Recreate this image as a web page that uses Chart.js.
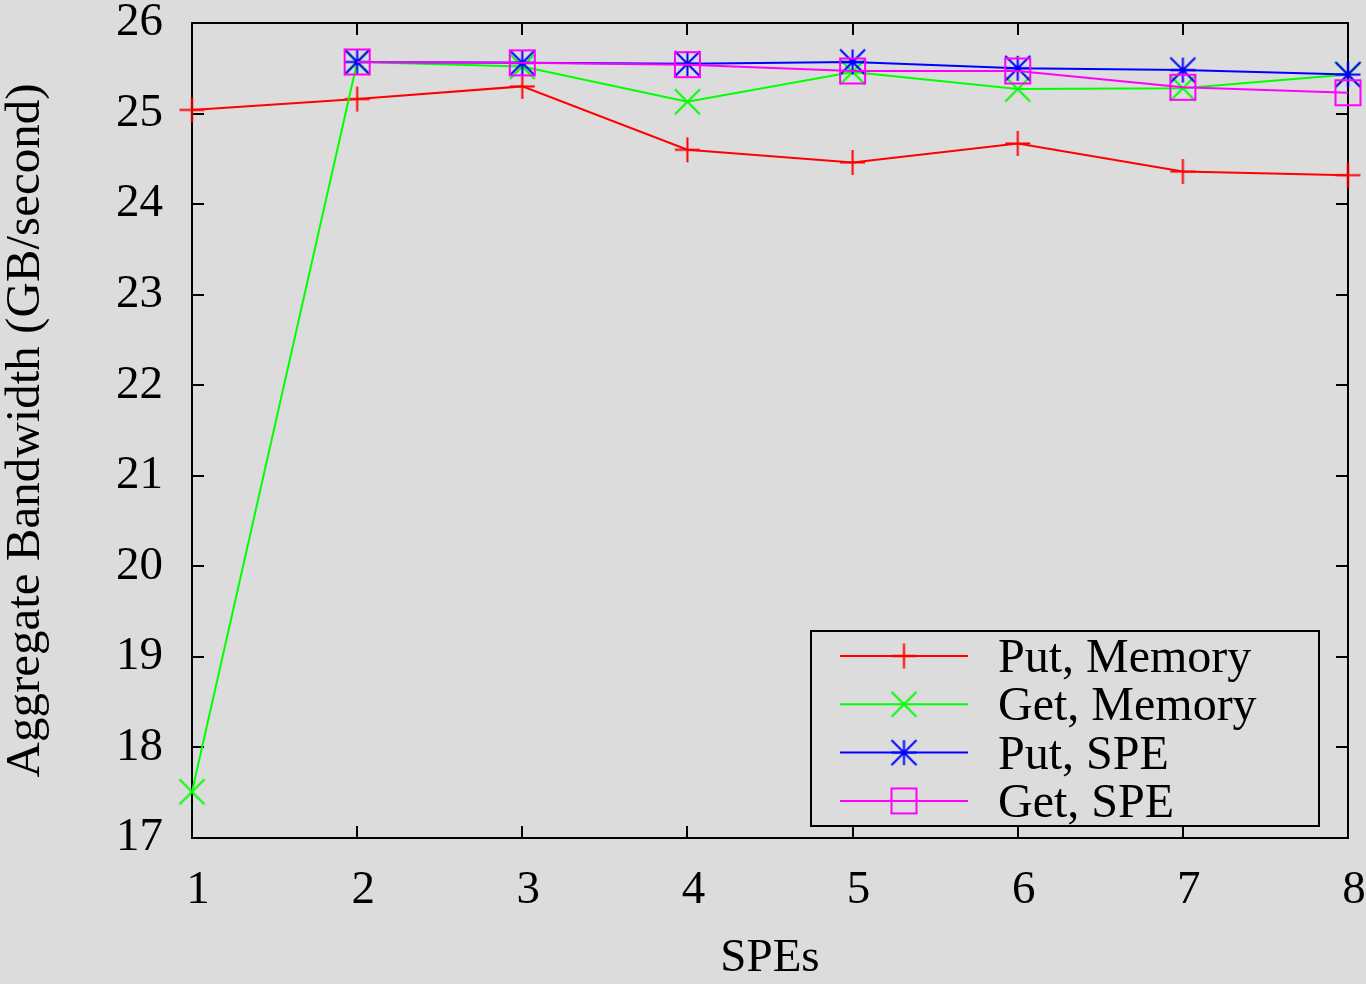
<!DOCTYPE html>
<html>
<head>
<meta charset="utf-8">
<script src="https://cdn.jsdelivr.net/npm/chart.js@4.4.1/dist/chart.umd.min.js"></script>
<style>
  html, body { margin: 0; padding: 0; background: #dcdcdc; }
</style>
</head>
<body>
<canvas id="myChart" width="1366" height="984"></canvas>
<script>
// values
const spes = [1, 2, 3, 4, 5, 6, 7, 8];
const putMemory = [25.04, 25.16, 25.30, 24.60, 24.46, 24.67, 24.36, 24.32];
const getMemory = [17.51, 25.57, 25.52, 25.13, 25.46, 25.27, 25.28, 25.43];
const putSpe = [null, 25.57, 25.56, 25.55, 25.57, 25.50, 25.48, 25.43];
const getSpe = [null, 25.57, 25.56, 25.54, 25.47, 25.47, 25.29, 25.23];
const xTickValues = [1, 2, 3, 4, 5, 6, 7, 8];
const yTickValues = [17, 18, 19, 20, 21, 22, 23, 24, 25, 26];

const FONT = '"Liberation Serif", "Times New Roman", serif';
const ctx = document.getElementById('myChart').getContext('2d');

// gnuplot-like point markers drawn on small canvases
function marker(kind, color) {
    const c = document.createElement('canvas');
    c.width = 29; c.height = 29;
    const g = c.getContext('2d');
    g.strokeStyle = color;
    g.lineWidth = 2;
    const m = 14.5, r = 12.5;
    g.beginPath();
    if (kind === 'plus' || kind === 'star') {
        g.moveTo(m - r, m); g.lineTo(m + r, m);
        g.moveTo(m, m - r); g.lineTo(m, m + r);
    }
    if (kind === 'cross' || kind === 'star') {
        g.moveTo(m - r, m - r); g.lineTo(m + r, m + r);
        g.moveTo(m + r, m - r); g.lineTo(m - r, m + r);
    }
    if (kind === 'box') g.rect(m - r, m - r, 2 * r, 2 * r);
    g.stroke();
    return c;
}

function series(label, values, color, kind, order) {
    return {
        label: label,
        data: spes.map((x, i) => ({ x: x, y: values[i] })),
        borderColor: color,
        backgroundColor: color,
        borderWidth: 2,
        pointStyle: marker(kind, color),
        pointRadius: 12,
        clip: false,
        order: order
    };
}

// frame and inward tick marks
const framePlugin = {
    id: 'frame',
    beforeDatasetsDraw(chart) {
        const { ctx, chartArea: a, scales } = chart;
        ctx.save();
        ctx.strokeStyle = '#000';
        ctx.lineWidth = 2;
        ctx.strokeRect(a.left, a.top, a.right - a.left, a.bottom - a.top);
        ctx.beginPath();
        yTickValues.forEach(v => {
            const y = Math.round(scales.y.getPixelForValue(v));
            ctx.moveTo(a.left, y); ctx.lineTo(a.left + 12, y);
            ctx.moveTo(a.right, y); ctx.lineTo(a.right - 12, y);
        });
        xTickValues.forEach(v => {
            const x = Math.round(scales.x.getPixelForValue(v));
            ctx.moveTo(x, a.bottom); ctx.lineTo(x, a.bottom - 12);
            ctx.moveTo(x, a.top); ctx.lineTo(x, a.top + 12);
        });
        ctx.stroke();
        ctx.restore();
    }
};

// boxed legend inside the plot, lower right
const legendPlugin = {
    id: 'boxLegend',
    afterDraw(chart) {
        const { ctx } = chart;
        const box = { x: 811, y: 631, w: 508, h: 195 };
        ctx.save();
        ctx.strokeStyle = '#000';
        ctx.lineWidth = 2;
        ctx.strokeRect(box.x, box.y, box.w, box.h);
        ctx.font = '48px ' + FONT;
        ctx.textBaseline = 'alphabetic';
        ctx.textAlign = 'left';
        chart.data.datasets.forEach((ds, i) => {
            const y = 656 + i * 48.3;
            ctx.strokeStyle = ds.borderColor;
            ctx.lineWidth = 2;
            ctx.beginPath();
            ctx.moveTo(840, y); ctx.lineTo(968, y);
            ctx.stroke();
            ctx.drawImage(ds.pointStyle, 904 - 14.5, y - 14.5);
            ctx.fillStyle = '#000';
            ctx.fillText(ds.label, 998, y + 16);
        });
        ctx.restore();
    }
};

const chart = new Chart(ctx, {
    type: 'line',
    data: {
        datasets: [
            series('Put, Memory', putMemory, '#ff0000', 'plus', 4),
            series('Get, Memory', getMemory, '#00ff00', 'cross', 3),
            series('Put, SPE', putSpe, '#0000ff', 'star', 2),
            series('Get, SPE', getSpe, '#ff00ff', 'box', 1)
        ]
    },
    options: {
        responsive: false,
        animation: false,
        layout: { padding: { left: 0, top: 23, right: 18, bottom: 0 } },
        plugins: {
            legend: { display: false },
            tooltip: { enabled: false }
        },
        scales: {
            x: {
                type: 'linear',
                min: 1,
                max: 8,
                grid: { display: false, drawTicks: false },
                border: { display: false },
                afterBuildTicks: s => { s.ticks = xTickValues.map(v => ({ value: v })); },
                afterFit: s => { s.height = 146; s.paddingLeft = 0; s.paddingRight = 0; },
                ticks: {
                    color: '#000',
                    padding: 24,
                    labelOffset: 6,
                    maxRotation: 0,
                    font: { family: FONT, size: 47 }
                },
                title: {
                    display: true,
                    text: 'SPEs',
                    color: '#000',
                    padding: { top: 0, bottom: 2 },
                    font: { family: FONT, size: 47, lineHeight: 1 }
                }
            },
            y: {
                min: 17,
                max: 26,
                grid: { display: false, drawTicks: false },
                border: { display: false },
                afterBuildTicks: s => { s.ticks = yTickValues.map(v => ({ value: v })); },
                afterFit: s => { s.width = 192; s.paddingTop = 0; s.paddingBottom = 0; },
                ticks: {
                    color: '#000',
                    padding: 29,
                    font: { family: FONT, size: 47 }
                },
                title: {
                    display: true,
                    text: 'Aggregate Bandwidth (GB/second)',
                    color: '#000',
                    padding: { top: 2, bottom: 0 },
                    font: { family: FONT, size: 49, lineHeight: 1 }
                }
            }
        }
    },
    plugins: [framePlugin, legendPlugin]
});
</script>
</body>
</html>
